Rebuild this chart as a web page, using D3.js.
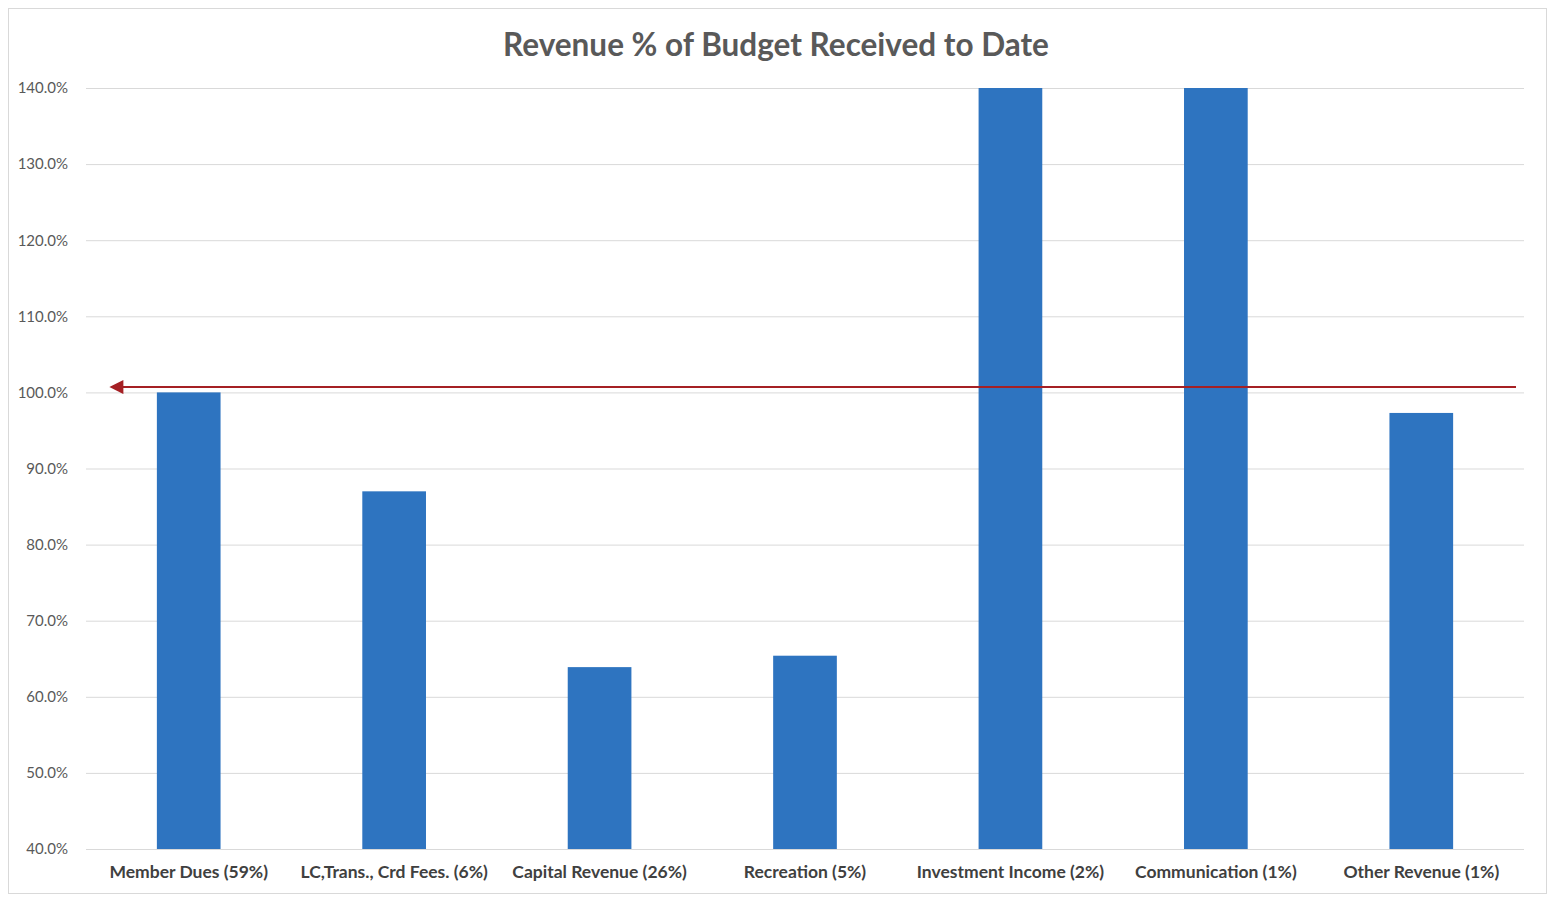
<!DOCTYPE html>
<html>
<head>
<meta charset="utf-8">
<script src="https://cdn.jsdelivr.net/npm/d3@7"></script>
<style>
  body { margin: 0; background: #fff; }
  svg { display: block; }
</style>
</head>
<body>
<svg id="chart"></svg>
<script>
// Chart data
const categories = [
    "Member Dues (59%)",
    "LC,Trans., Crd Fees. (6%)",
    "Capital Revenue (26%)",
    "Recreation (5%)",
    "Investment Income (2%)",
    "Communication (1%)",
    "Other Revenue (1%)"
];
const pctReceived = [100.0, 87.0, 63.9, 65.4, 152.0, 165.0, 97.3];
const yTicks = [40, 50, 60, 70, 80, 90, 100, 110, 120, 130, 140];
const targetLine = 100.7; // red arrow drawn across the chart

const width = 1549, height = 899;
const margin = {top: 88, right: 25, bottom: 50, left: 86};

const svg = d3.select("#chart")
    .attr("width", width)
    .attr("height", height);

// Outer chart frame
svg.append("rect")
   .attr("x", 8.5)
   .attr("y", 8.5)
   .attr("width", 1538)
   .attr("height", 885)
   .attr("fill", "#fff")
   .attr("stroke", "#d9d9d9");

const x = d3.scaleBand()
    .domain(categories)
    .range([margin.left, width - margin.right])
    .paddingInner(0.69)
    .paddingOuter(0.345);

const y = d3.scaleLinear()
    .domain([40, 140])
    .range([height - margin.bottom, margin.top]);

// Gridlines
svg.append("g")
   .selectAll("line")
   .data(yTicks)
   .join("line")
   .attr("x1", margin.left)
   .attr("x2", width - margin.right)
   .attr("y1", d => y(d) + 0.5)
   .attr("y2", d => y(d) + 0.5)
   .attr("stroke", "#d9d9d9")
   .attr("stroke-width", 1);

// Y axis labels
const yAxis = svg.append("g")
    .attr("transform", `translate(${margin.left - 15},0)`)
    .call(d3.axisLeft(y).tickValues(yTicks).tickFormat(d => d3.format(".1f")(d) + "%").tickSize(0));
yAxis.select(".domain").remove();
yAxis.selectAll("text")
     .attr("font-family", "Lato, sans-serif")
     .attr("font-size", 15)
     .attr("fill", "#595959");

// Bars (clipped at axis max)
svg.append("g")
   .selectAll("rect")
   .data(pctReceived)
   .join("rect")
   .attr("x", (d, i) => x(categories[i]))
   .attr("y", d => y(Math.min(d, 140)))
   .attr("width", x.bandwidth())
   .attr("height", d => y(40) - y(Math.min(d, 140)))
   .attr("fill", "#2e74c0");

// X axis labels
const xAxis = svg.append("g")
    .attr("transform", `translate(0,${height - margin.bottom})`)
    .call(d3.axisBottom(x).tickSize(0).tickPadding(17));
xAxis.select(".domain").remove();
xAxis.selectAll("text")
     .attr("font-family", "Lato, sans-serif")
     .attr("font-weight", "bold")
     .attr("font-size", 17.5)
     .attr("fill", "#404040");

// Title
svg.append("text")
   .attr("x", 776)
   .attr("y", 56)
   .attr("text-anchor", "middle")
   .attr("font-family", "Lato, sans-serif")
   .attr("font-weight", "bold")
   .attr("font-size", 31.5)
   .attr("fill", "#595959")
   .text("Revenue % of Budget Received to Date");

// Red arrow pointing left
svg.append("defs").append("marker")
   .attr("id", "arrowhead")
   .attr("viewBox", "0 0 10 10")
   .attr("refX", 1)
   .attr("refY", 5)
   .attr("markerWidth", 8)
   .attr("markerHeight", 7)
   .attr("orient", "auto-start-reverse")
   .append("path")
   .attr("d", "M0,0 L10,5 L0,10 Z")
   .attr("fill", "#a52024");

svg.append("line")
   .attr("x1", 1516)
   .attr("x2", 122)
   .attr("y1", y(targetLine))
   .attr("y2", y(targetLine))
   .attr("stroke", "#a52024")
   .attr("stroke-width", 2)
   .attr("marker-end", "url(#arrowhead)");
</script>
</body>
</html>
